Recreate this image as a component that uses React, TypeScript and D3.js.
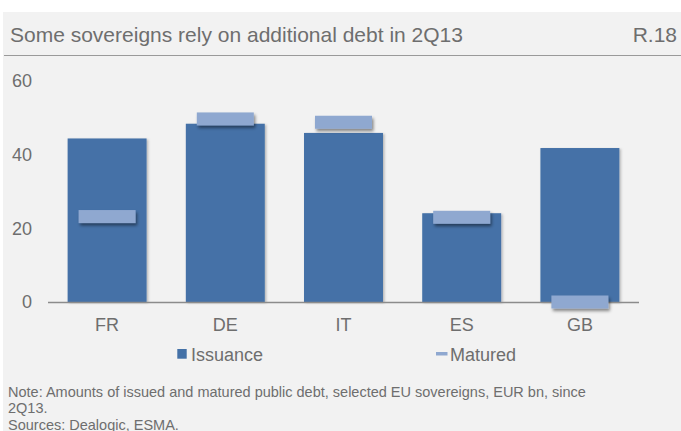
import React from "react";
import * as d3 from "d3";

const categories = ["FR", "DE", "IT", "ES", "GB"];
const issuance = [44.4, 48.4, 45.9, 24.1, 41.8];
const matured = [23.2, 49.7, 48.8, 23.0, 0.0];
const yTicks = [0, 20, 40, 60];
const title = "Some sovereigns rely on additional debt in 2Q13";
const chartId = "R.18";
const noteLines = [
  "Note: Amounts of issued and matured public debt, selected EU sovereigns, EUR bn, since",
  "2Q13.",
  "Sources: Dealogic, ESMA.",
];

const W = 681;
const H = 431;
const BAR = "#4471A7";
const MAT = "#8FA8D0";
const TXT = "#6E6E6E";
const FONT = "'Liberation Sans', Arial, sans-serif";

export default function App() {
  const x = d3.scaleBand<string>().domain(categories).range([48, 639]).paddingInner(0.332).paddingOuter(0.166);
  const y = d3.scaleLinear().domain([0, 60]).range([302, 81]);
  const bw = x.bandwidth();
  const mw = 57;
  const mh = 13;
  return (
    <svg width={W} height={H} style={{ position: "absolute", left: 0, top: 0 }} fontFamily={FONT}>
      <defs>
        <filter id="sh" x="-20%" y="-50%" width="150%" height="250%">
          <feDropShadow dx="1.5" dy="2.5" stdDeviation="1.8" floodColor="#000" floodOpacity="0.45" />
        </filter>
        <filter id="shb" x="-10%" y="-10%" width="130%" height="130%">
          <feDropShadow dx="1.5" dy="1" stdDeviation="1.2" floodColor="#000" floodOpacity="0.25" />
        </filter>
      </defs>
      <rect x={3} y={12} width={W - 3} height={H - 12} fill="#F2F2F2" />
      <text x={10} y={42} fontSize={21} fill={TXT}>{title}</text>
      <text x={677} y={42} fontSize={21} fill={TXT} textAnchor="end">{chartId}</text>
      <line x1={4} x2={W} y1={55.5} y2={55.5} stroke="#9A9A9A" strokeWidth={1.2} />
      {yTicks.map((t) => (
        <text key={t} x={32} y={y(t)} dy="0.36em" fontSize={18} fill={TXT} textAnchor="end">{t}</text>
      ))}
      {categories.map((c, i) => (
        <rect key={c} x={x(c)} y={y(issuance[i])} width={bw} height={y(0) - y(issuance[i])} fill={BAR} filter="url(#shb)" />
      ))}
      <line x1={48} x2={639} y1={y(0) + 0.5} y2={y(0) + 0.5} stroke="#8C8C8C" strokeWidth={1.3} />
      {categories.map((c, i) => (
        <rect key={c + "m"} x={(x(c) as number) + bw / 2 - mw / 2} y={y(matured[i]) - mh / 2} width={mw} height={mh} fill={MAT} filter="url(#sh)" />
      ))}
      {categories.map((c) => (
        <text key={c + "l"} x={(x(c) as number) + bw / 2} y={331} fontSize={18} fill={TXT} textAnchor="middle">{c}</text>
      ))}
      <rect x={177.3} y={349} width={9.4} height={9.7} fill={BAR} />
      <text x={191} y={361.3} fontSize={18} fill={TXT}>Issuance</text>
      <rect x={436} y={352} width={11.5} height={3.5} fill={MAT} />
      <text x={450} y={361.3} fontSize={18} fill={TXT}>Matured</text>
      {noteLines.map((l, i) => (
        <text key={i} x={8} y={396.7 + i * 16.7} fontSize={14.5} fill={TXT}>{l}</text>
      ))}
    </svg>
  );
}
